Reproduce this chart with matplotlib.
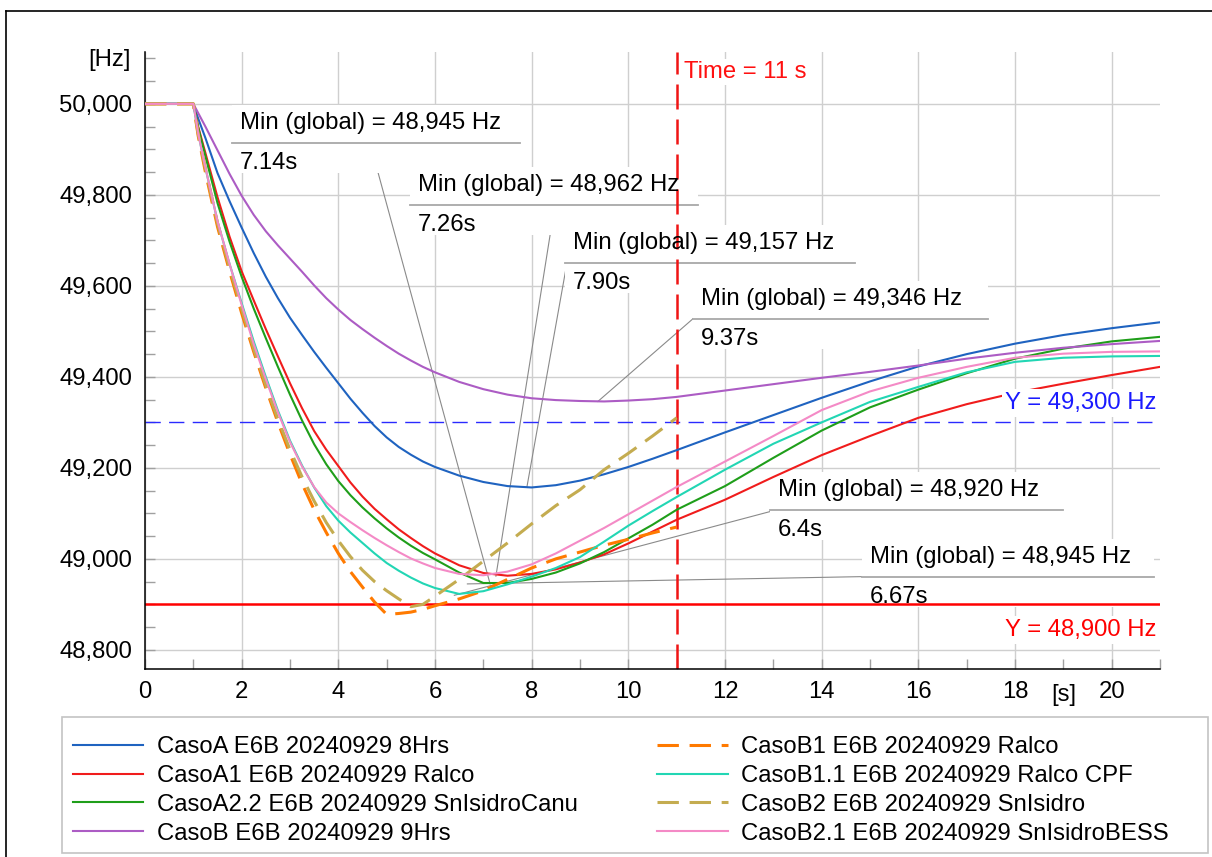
import matplotlib
matplotlib.use("Agg")
import matplotlib.pyplot as plt
from matplotlib.patches import Rectangle
from matplotlib.lines import Line2D
from matplotlib.ticker import MultipleLocator, FuncFormatter

plt.rcParams['font.family'] = ['Liberation Sans', 'DejaVu Sans']
FS = 17.2

# ---------------- data ----------------
time_s = [0, 1, 1.1, 1.25, 1.5, 1.75, 2, 2.25, 2.5, 2.75, 3, 3.25, 3.5, 3.75, 4,
          4.25, 4.5, 4.75, 5, 5.25, 5.5, 5.75, 6,
          6.5, 7, 7.5, 8, 8.5, 9, 9.5, 10, 10.5, 11,
          12, 13, 14, 15, 16, 17, 18, 19, 20, 21]

casoA = [50000, 50000, 49968, 49925, 49848, 49786, 49728, 49672, 49620, 49573,
         49530, 49492, 49455, 49420, 49386, 49352, 49321, 49292, 49267, 49246,
         49229, 49214, 49202,
         49183, 49169, 49160, 49157, 49162, 49172, 49186, 49202, 49220, 49239,
         49278, 49316, 49354, 49390, 49423, 49450, 49473, 49492, 49507, 49520]
casoA1 = [50000, 50000, 49950, 49892, 49795, 49708, 49632, 49568, 49505, 49445,
          49386, 49331, 49281, 49240, 49204, 49168, 49137, 49110, 49087, 49065,
          49046, 49028, 49012,
          48986, 48969, 48963, 48967, 48977, 48992, 49010, 49034, 49060, 49086,
          49130, 49180, 49228, 49270, 49310, 49340, 49365, 49385, 49404, 49422]
casoA22 = [50000, 50000, 49948, 49885, 49782, 49697, 49620, 49550, 49485, 49422,
           49361, 49304, 49252, 49208, 49171, 49140, 49113, 49089, 49067, 49047,
           49029, 49013, 48999,
           48970, 48947, 48947, 48956, 48970, 48990, 49015, 49045, 49075, 49108,
           49160, 49222, 49282, 49333, 49372, 49408, 49440, 49462, 49478, 49488]
casoB = [50000, 50000, 49980, 49950, 49898, 49846, 49798, 49756, 49720, 49689,
         49660, 49631, 49601, 49573, 49548, 49525, 49505, 49486, 49468, 49451,
         49436, 49422, 49410,
         49389, 49373, 49361, 49353, 49349, 49347, 49346, 49348, 49351, 49356,
         49370, 49384, 49398, 49411, 49425, 49440, 49453, 49464, 49472, 49479]
casoB1 = [50000, 50000, 49930, 49850, 49730, 49632, 49540, 49455, 49375, 49300,
          49230, 49165, 49108, 49058, 49012, 48972, 48938, 48905, 48878, 48880,
          48883, 48889, 48897,
          48912, 48930, 48955, 48980, 49000, 49015, 49030, 49043, 49057, 49070]
casoB11 = [50000, 50000, 49935, 49860, 49742, 49648, 49562, 49478, 49400, 49326,
           49260, 49205, 49157, 49116, 49084, 49058, 49035, 49012, 48991, 48974,
           48959, 48946, 48936,
           48923, 48929, 48944, 48961, 48980, 49004, 49038, 49073, 49105, 49136,
           49196, 49253, 49300, 49345, 49378, 49410, 49433, 49442, 49445, 49446]
casoB2 = [50000, 50000, 49935, 49858, 49738, 49640, 49550, 49462, 49382, 49307,
          49240, 49180, 49127, 49080, 49040, 49005, 48975, 48950, 48930, 48912,
          48895, 48900, 48918,
          48955, 48995, 49035, 49077, 49117, 49152, 49196, 49232, 49270, 49310]
casoB21 = [50000, 50000, 49935, 49860, 49742, 49648, 49558, 49472, 49395, 49322,
           49257, 49203, 49158, 49124, 49100, 49081, 49063, 49046, 49030, 49015,
           49001, 48990, 48980,
           48967, 48964, 48972, 48988, 49012, 49040, 49068, 49098, 49128, 49158,
           49214, 49270, 49327, 49368, 49398, 49422, 49442, 49451, 49455, 49456]

labels = ["CasoA E6B 20240929 8Hrs", "CasoA1 E6B 20240929 Ralco",
          "CasoA2.2 E6B 20240929 SnIsidroCanu", "CasoB E6B 20240929 9Hrs",
          "CasoB1 E6B 20240929 Ralco", "CasoB1.1 E6B 20240929 Ralco CPF",
          "CasoB2 E6B 20240929 SnIsidro", "CasoB2.1 E6B 20240929 SnIsidroBESS"]

min_values = [48945, 48962, 49157, 49346, 48920, 48945]
min_times = [7.14, 7.26, 7.90, 9.37, 6.4, 6.67]
min_time_labels = ["7.14s", "7.26s", "7.90s", "9.37s", "6.4s", "6.67s"]

ref_y_blue = 49300
ref_y_red = 48900
ref_time = 11

# ---------------- styling ----------------
series = [
    (casoA,   "#1f63c0", "-"),
    (casoA1,  "#f01c1c", "-"),
    (casoA22, "#1f9e1a", "-"),
    (casoB,   "#ac5cc4", "-"),
    (casoB1,  "#ff7a00", "--"),
    (casoB11, "#22d6b4", "-"),
    (casoB2,  "#c4ac50", "--"),
    (casoB21, "#f48ac6", "-"),
]

W, H, DPI = 1212, 857, 100
fig = plt.figure(figsize=(W / DPI, H / DPI), dpi=DPI)
ax_l, ax_r, ax_t, ax_b = 145, 1160, 52, 669
ax = fig.add_axes([ax_l / W, 1 - ax_b / H, (ax_r - ax_l) / W, (ax_b - ax_t) / H])
ax.set_xlim(0, 21)
ax.set_ylim(48758, 50114)
ax.set_axisbelow(True)

handles = []
for vals, col, ls in series:
    t = time_s[:len(vals)]
    if ls == "--":
        ln, = ax.plot(t, vals, color=col, lw=2.2, dashes=(7, 3.5), zorder=3)
    else:
        ln, = ax.plot(t, vals, color=col, lw=1.5, zorder=3)
    handles.append(ln)

# reference lines
ax.axhline(ref_y_blue, color="#2a2aff", lw=1.0, dashes=(11, 6), zorder=2.5)
ax.axhline(ref_y_red, color="#ff0000", lw=1.8, zorder=2.5)
ax.axvline(ref_time, color="#f01414", lw=1.8, dashes=(10, 4), zorder=2.5)

# axes styling
for s in ["top", "right"]:
    ax.spines[s].set_visible(False)
for s in ["left", "bottom"]:
    ax.spines[s].set_color("black")
    ax.spines[s].set_linewidth(1.1)
ax.xaxis.set_major_locator(MultipleLocator(2))
ax.xaxis.set_minor_locator(MultipleLocator(1))
ax.yaxis.set_major_locator(MultipleLocator(200))
ax.yaxis.set_minor_locator(MultipleLocator(50))
ax.yaxis.set_major_formatter(FuncFormatter(lambda v, p: f"{v:,.0f}"))
ax.tick_params(which="both", direction="in", length=7, width=1, color="#a0a0a0",
               labelsize=FS, pad=9)
ax.grid(True, which="major", color="#cfcfcf", lw=1.0)

# axis unit labels
fig.text(131 / W, 1 - 60 / H, "[Hz]", ha="right", va="center", fontsize=FS)
ax.text(19, -(695 - ax_b) / (ax_b - ax_t), "[s]", transform=ax.get_xaxis_transform(),
        ha="center", va="center", fontsize=FS)

# reference labels
ax.text(11.15, 50070, "Time = 11 s", color="#ff1010", fontsize=FS, ha="left", va="center",
        zorder=6, bbox=dict(facecolor="white", edgecolor="none", pad=1.5))
ax.text(20.93, 49343, "Y = 49,300 Hz", color="#1a1aff", fontsize=FS, ha="right",
        va="center", zorder=6, bbox=dict(facecolor="white", edgecolor="none", pad=2))
ax.text(20.93, 48844, "Y = 48,900 Hz", color="#ff0000", fontsize=FS, ha="right",
        va="center", zorder=6, bbox=dict(facecolor="white", edgecolor="none", pad=2))

# ---------------- min annotations ----------------
sx = 21 / (ax_r - ax_l)              # seconds per pixel
sy = (50114 - 48758) / (ax_b - ax_t)  # Hz per pixel
box_t = [1.80, 5.48, 8.69, 11.34, 12.93, 14.83]
box_f = [49914, 49778, 49651, 49528, 49108, 48961]
leader_off = [138, 145, 2, 0, 7, 0]
box_w = [288, 288, 290, 295, 293, 292]
for i in range(6):
    x0, y0 = box_t[i], box_f[i]
    ax.add_patch(Rectangle((x0, y0 - 30 * sy), box_w[i] * sx, 68 * sy,
                           facecolor="white", edgecolor="none", zorder=1.5))
    ax.add_line(Line2D([x0, x0 + box_w[i] * sx], [y0, y0], color="#a8a8a8",
                       lw=1.3, zorder=1.6))
    ax.add_line(Line2D([x0 + leader_off[i] * sx, min_times[i]], [y0, min_values[i]],
                       color="#8a8a8a", lw=0.8, zorder=1.2))
    ax.text(x0 + 8 * sx, y0 + 20 * sy, f"Min (global) = {min_values[i]:,.0f} Hz",
            fontsize=FS, ha="left", va="center", zorder=5)
    ax.text(x0 + 8 * sx, y0 - 20 * sy, min_time_labels[i],
            fontsize=FS, ha="left", va="center", zorder=5)

# ---------------- legend ----------------
fig.legend(handles, labels, loc="upper left", bbox_to_anchor=(73 / W, 1 - 736 / H),
           ncol=2, frameon=False, fontsize=FS, handlelength=2.95, handletextpad=0.58,
           columnspacing=3.3, labelspacing=0.29, borderpad=0, borderaxespad=0)
fig.patches.append(Rectangle((62 / W, 1 - 853 / H), (1208 - 62) / W, (853 - 717) / H,
                             transform=fig.transFigure, fill=False,
                             edgecolor="#c4c4c4", lw=1.2))
# outer frame
fig.lines.append(Line2D([6 / W, 1.0], [1 - 11 / H, 1 - 11 / H], transform=fig.transFigure,
                        color="black", lw=1.2))
fig.lines.append(Line2D([6 / W, 6 / W], [0, 1 - 11 / H], transform=fig.transFigure,
                        color="black", lw=1.2))

fig.savefig("out.png", dpi=DPI)
